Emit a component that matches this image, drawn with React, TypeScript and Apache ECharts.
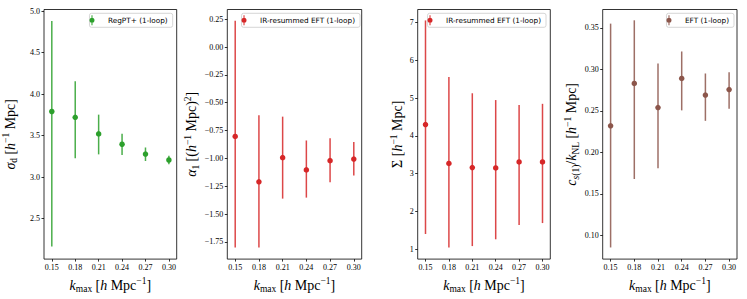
import React, { useEffect, useRef } from "react";
import * as echarts from "echarts";

const kmax = [0.15, 0.18, 0.21, 0.24, 0.27, 0.3];

const sigmaD = [3.79, 3.72, 3.52, 3.395, 3.277, 3.205];
const sigmaDLow = [2.163, 3.225, 3.273, 3.265, 3.193, 3.154];
const sigmaDHigh = [4.88, 4.156, 3.752, 3.522, 3.356, 3.257];

const alpha1 = [-0.803, -1.21, -0.993, -1.103, -1.02, -1.006];
const alpha1Low = [-1.8, -1.8, -1.361, -1.352, -1.213, -1.153];
const alpha1High = [0.235, -0.613, -0.625, -0.839, -0.82, -0.853];

const bigSigma = [4.3, 3.27, 3.16, 3.15, 3.31, 3.31];
const bigSigmaLow = [1.4, 1.04, 1.08, 1.26, 1.64, 1.69];
const bigSigmaHigh = [7.06, 5.56, 5.13, 4.95, 4.82, 4.85];

const csRatio = [0.232, 0.283, 0.254, 0.289, 0.269, 0.2757];
const csRatioLow = [0.0856, 0.168, 0.181, 0.2506, 0.238, 0.2525];
const csRatioHigh = [0.355, 0.359, 0.307, 0.3215, 0.295, 0.2965];

const xTicks = [0.15, 0.18, 0.21, 0.24, 0.27, 0.3];
const yTicks1 = [2.5, 3.0, 3.5, 4.0, 4.5, 5.0];
const yTicks2 = [-1.75, -1.5, -1.25, -1.0, -0.75, -0.5, -0.25, 0.0, 0.25];
const yTicks3 = [1, 2, 3, 4, 5, 6, 7];
const yTicks4 = [0.1, 0.15, 0.2, 0.25, 0.3, 0.35];

const names = [
  "RegPT+ (1-loop)",
  "IR-resummed EFT (1-loop)",
  "IR-resummed EFT (1-loop)",
  "EFT (1-loop)",
];
const colors = ["#2ca02c", "#d62728", "#d62728", "#8c564b"];

const SERIF = "'Liberation Serif', 'DejaVu Serif', serif";
const SANS = "'DejaVu Sans', sans-serif";
const ICON =
  "path://M2,0 H3 V10 H2 Z M2.5,2.5 A2.5,2.5 0 1 1 2.5,7.5 A2.5,2.5 0 1 1 2.5,2.5 Z";

const richName = {
  n: { fontFamily: SERIF, fontSize: 14, lineHeight: 18, color: "#000", verticalAlign: "middle" },
  i: { fontFamily: SERIF, fontSize: 14, lineHeight: 18, color: "#000", fontStyle: "italic", verticalAlign: "middle" },
  sub: { fontFamily: SERIF, fontSize: 9.5, lineHeight: 9, color: "#000", verticalAlign: "bottom" },
  subi: { fontFamily: SERIF, fontSize: 9.5, lineHeight: 9, color: "#000", fontStyle: "italic", verticalAlign: "bottom" },
  sup: { fontFamily: SERIF, fontSize: 9.5, lineHeight: 9, color: "#000", verticalAlign: "top" },
};

const grids = [
  { left: 40.7, right: 747 - 176.7 },
  { left: 227.3, right: 747 - 361.7 },
  { left: 417.7, right: 747 - 550.3 },
  { left: 602.7, right: 747 - 737 },
];

const yRanges = [
  { min: 2.01, max: 5.02, ticks: yTicks1, dec: 1, gap: 25 },
  { min: -1.904, max: 0.337, ticks: yTicks2, dec: 2, gap: 25 },
  { min: 0.735, max: 7.35, ticks: yTicks3, dec: 0, gap: 11 },
  { min: 0.0716, max: 0.372, ticks: yTicks4, dec: 2, gap: 22 },
];

const yNames = [
  "{i|σ}{sub|d} {n|[}{i|h}{sup|−1}{n| Mpc]}",
  "{i|α}{sub|1} {n|[(}{i|h}{sup|−1}{n| Mpc)}{sup|2}{n|]}",
  "{n|Σ [}{i|h}{sup|−1}{n| Mpc]}",
  "{i|c}{subi|s}{sub|(1)}{n|/}{i|k}{sub|NL} {n|[}{i|h}{sup|−1}{n| Mpc]}",
];

const legendBoxes = [
  { right: 747 - 172.7 },
  { right: 747 - 360 },
  { right: 747 - 546 },
  { right: 747 - 734 },
];

const panelData = [
  { v: sigmaD, lo: sigmaDLow, hi: sigmaDHigh },
  { v: alpha1, lo: alpha1Low, hi: alpha1High },
  { v: bigSigma, lo: bigSigmaLow, hi: bigSigmaHigh },
  { v: csRatio, lo: csRatioLow, hi: csRatioHigh },
];

function fmt(v: number, dec: number) {
  const s = Math.abs(v).toFixed(dec);
  return v < -1e-9 ? "\u2212" + s : s;
}

export default function App() {
  const ref = useRef<HTMLDivElement>(null);
  useEffect(() => {
    document.body.style.margin = "0";
    if (!ref.current) return;
    const chart = echarts.init(ref.current, undefined, { renderer: "svg" });

    const grid = grids.map((g) => ({
      left: g.left,
      right: g.right,
      top: 9.5,
      bottom: 299 - 260.5,
      show: true,
      borderColor: "#000",
      borderWidth: 0.8,
      backgroundColor: "transparent",
      containLabel: false,
    }));

    const xAxis = grids.map((_, gi) => ({
      type: "value",
      gridIndex: gi,
      position: "bottom",
      min: 0.14,
      max: 0.31,
      name: "{i|k}{sub|max} {n|[}{i|h}{n| Mpc}{sup|−1}{n|]}",
      nameLocation: "middle",
      nameGap: 14,
      nameTextStyle: { rich: richName },
      axisLine: { show: false, onZero: false },
      splitLine: { show: false },
      axisTick: {
        show: true,
        length: 2.5,
        customValues: xTicks,
        lineStyle: { color: "#000", width: 0.8 },
      },
      axisLabel: {
        customValues: xTicks,
        margin: 4,
        fontFamily: SERIF,
        fontSize: 8,
        color: "#000",
        formatter: (v: number) => v.toFixed(2),
      },
    }));

    const yAxis = yRanges.map((r, gi) => ({
      type: "value",
      gridIndex: gi,
      position: "left",
      min: r.min,
      max: r.max,
      name: yNames[gi],
      nameLocation: "middle",
      nameRotate: 90,
      nameGap: r.gap,
      nameTextStyle: { rich: richName },
      axisLine: { show: false, onZero: false },
      splitLine: { show: false },
      axisTick: {
        show: true,
        length: 2.5,
        customValues: r.ticks,
        lineStyle: { color: "#000", width: 0.8 },
      },
      axisLabel: {
        customValues: r.ticks,
        margin: 4,
        fontFamily: SERIF,
        fontSize: 8,
        color: "#000",
        formatter: (v: number) => fmt(v, r.dec),
      },
    }));

    const series: any[] = [];
    panelData.forEach((p, gi) => {
      const color = colors[gi];
      series.push({
        type: "custom",
        name: "err" + gi,
        xAxisIndex: gi,
        yAxisIndex: gi,
        data: kmax.map((k, i) => [k, p.lo[i], p.hi[i]]),
        encode: { x: 0, y: [1, 2] },
        renderItem: (params: any, api: any) => {
          const x = api.value(0);
          const a = api.coord([x, api.value(1)]);
          const b = api.coord([x, api.value(2)]);
          return {
            type: "line",
            shape: { x1: a[0], y1: a[1], x2: b[0], y2: b[1] },
            style: { stroke: color, lineWidth: 1.5, opacity: 0.85 },
          };
        },
        z: 2,
      });
      series.push({
        type: "scatter",
        name: names[gi],
        xAxisIndex: gi,
        yAxisIndex: gi,
        data: kmax.map((k, i) => [k, p.v[i]]),
        symbol: "circle",
        symbolSize: 5.5,
        itemStyle: { color, opacity: 1 },
        z: 3,
      });
    });

    const legend = legendBoxes.map((lb, gi) => ({
      data: [{ name: names[gi], icon: ICON }],
      right: lb.right,
      top: 13.3,
      orient: "horizontal",
      itemWidth: 22,
      itemHeight: 10,
      symbolKeepAspect: true,
      padding: [2, 5, 2, 0],
      backgroundColor: "#fff",
      borderColor: "#cccccc",
      borderWidth: 0.8,
      borderRadius: 2,
      selectedMode: false,
      textStyle: { fontFamily: SANS, fontSize: 7.3, color: "#000", padding: [0, 0, 0, 0] },
    }));

    chart.setOption({
      animation: false,
      backgroundColor: "#fff",
      grid,
      xAxis,
      yAxis,
      series,
      legend,
    });
    return () => chart.dispose();
  }, []);
  return (
    <div
      ref={ref}
      style={{ position: "absolute", left: 0, top: 0, width: 747, height: 299 }}
    />
  );
}
